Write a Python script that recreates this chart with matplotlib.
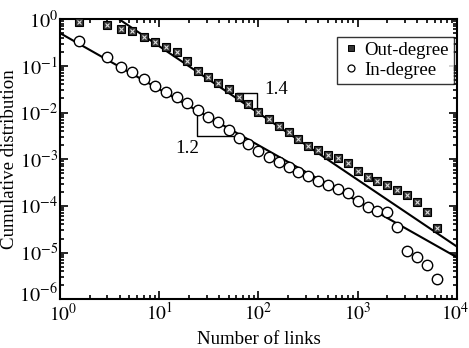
import numpy as np
import matplotlib.pyplot as plt
import matplotlib.transforms as mtransforms
from matplotlib.ticker import LogLocator, FixedLocator, NullFormatter

# =========================================================
# Data
# =========================================================
links = [1.55, 3.0, 4.1, 5.3, 7.0, 9.1, 11.6, 15.0, 19.1, 24.4, 30.8, 39.5,
         50.3, 63.3, 79.3, 100, 127, 160, 202, 251, 316, 398, 501, 631,
         806, 1000, 1270, 1585, 1995, 2512, 3162, 3981, 5012, 6310]

out_degree = [0.875, 0.744, 0.620, 0.561, 0.418, 0.317, 0.255, 0.194, 0.126,
              0.077, 0.0573, 0.0422, 0.0314, 0.0217, 0.0153, 0.01045, 0.0073,
              0.00516, 0.0038, 0.00268, 0.00195, 0.00155, 0.00122, 0.00104,
              8.13e-4, 5.7e-4, 4.14e-4, 3.37e-4, 2.79e-4, 2.21e-4, 1.75e-4,
              1.22e-4, 7.48e-5, 3.30e-5]

in_degree = [0.338, 0.156, 0.0925, 0.0745, 0.0512, 0.0367, 0.0274, 0.0210,
             0.0159, 0.0114, 0.00809, 0.00632, 0.00420, 0.00279, 0.00210,
             0.00151, 0.00112, 8.79e-4, 6.67e-4, 5.37e-4, 4.35e-4, 3.45e-4,
             2.86e-4, 2.25e-4, 1.85e-4, 1.29e-4, 9.57e-5, 7.85e-5, 7.26e-5,
             3.56e-5, 1.09e-5, 8.13e-6, 5.40e-6, 2.71e-6]

# power-law fits: log10 P = intercept - slope * log10 k
out_fit = (0.85, 1.43)
in_fit = (-0.30, 1.2)

labels = ["Out-degree", "In-degree"]
slope_labels = ["1.4", "1.2"]

# =========================================================
# Style
# =========================================================
plt.rcParams["font.family"] = ["Liberation Serif", "DejaVu Serif"]
plt.rcParams["mathtext.fontset"] = "stix"

fig = plt.figure(figsize=(4.69, 3.48), dpi=100)
ax = fig.add_axes([0.128, 0.140, 0.846, 0.805])

k_line = np.logspace(0, 4, 200)
for (b, s) in (out_fit, in_fit):
    ax.plot(k_line, 10 ** (b - s * np.log10(k_line)), color="black", lw=1.5, zorder=2)

# out-degree: dark boxes with a light cross pattern
ax.plot(links, out_degree, ls="none", marker="s", ms=6.2, mfc="#333333",
        mec="black", mew=0.8, zorder=3)
ax.plot(links, out_degree, ls="none", marker="x", ms=3.2, mec="#dddddd",
        mew=0.8, zorder=4)
ax.plot(links, in_degree, ls="none", marker="o", ms=7.5, mfc="white",
        mec="black", mew=1.0, zorder=3)

# slope triangles
ax.plot([60.3, 97.3, 97.3], [0.0256, 0.0256, 0.01225], color="black", lw=1.0)
ax.plot([24.2, 24.2, 58.0], [0.01035, 0.00312, 0.00312], color="black", lw=1.0)
ax.text(150, 0.0306, slope_labels[0], fontsize=13.6, ha="center", va="center")
ax.text(19, 0.00173, slope_labels[1], fontsize=13.6, ha="center", va="center")

ax.set_xscale("log")
ax.set_yscale("log")
ax.set_xlim(1, 1e4)
ax.set_ylim(1e-6, 1)

ax.xaxis.set_major_locator(FixedLocator([1, 10, 100, 1000, 10000]))
ax.yaxis.set_major_locator(FixedLocator([1e-6, 1e-5, 1e-4, 1e-3, 1e-2, 1e-1, 1]))
ax.set_xticklabels([r"$10^{%d}$" % i for i in range(5)])
ax.set_yticklabels([r"$10^{%d}$" % i for i in range(-6, 1)])
ax.xaxis.set_minor_locator(LogLocator(base=10, subs=np.arange(2, 10), numticks=20))
ax.yaxis.set_minor_locator(LogLocator(base=10, subs=np.arange(2, 10), numticks=20))
ax.xaxis.set_minor_formatter(NullFormatter())
ax.yaxis.set_minor_formatter(NullFormatter())

ax.tick_params(which="both", direction="in", top=True, right=True, width=1.2)
ax.tick_params(axis="y", pad=1.5, labelsize=14.5)
ax.tick_params(axis="x", pad=2, labelsize=14)
ax.tick_params(which="major", length=6)
ax.tick_params(which="minor", length=3)
for sp in ax.spines.values():
    sp.set_linewidth(1.5)

# nudge corner labels: keep 10^4 inside, keep 10^0 and 10^-6 apart
def nudge(label, dx, dy):
    label.set_transform(label.get_transform() +
                        mtransforms.ScaledTranslation(dx / 100, dy / 100, fig.dpi_scale_trans))

nudge(ax.get_xticklabels()[-1], -2, 0)
nudge(ax.get_xticklabels()[0], 3, -1)
nudge(ax.get_yticklabels()[0], 0, 6)

ax.set_xlabel("Number of links", fontsize=13.6, labelpad=4)
ax.set_ylabel("Cumulative distribution", fontsize=13.6, labelpad=1)

# legend built from proxy handles
h_out = ax.plot([], [], ls="none", marker="s", ms=4.5, mfc="#333333", mec="black", mew=0.7)[0]
h_in = ax.plot([], [], ls="none", marker="o", ms=5, mfc="white", mec="black", mew=0.9)[0]
leg = ax.legend([h_out, h_in], labels, loc="upper right", fontsize=13.6,
                frameon=True, fancybox=False, edgecolor="black",
                borderpad=0.25, handletextpad=0.2, handlelength=1.0,
                labelspacing=0.15, borderaxespad=0, bbox_to_anchor=(0.992, 0.936))
leg.get_frame().set_linewidth(1.0)

fig.savefig("out.png", dpi=100)
